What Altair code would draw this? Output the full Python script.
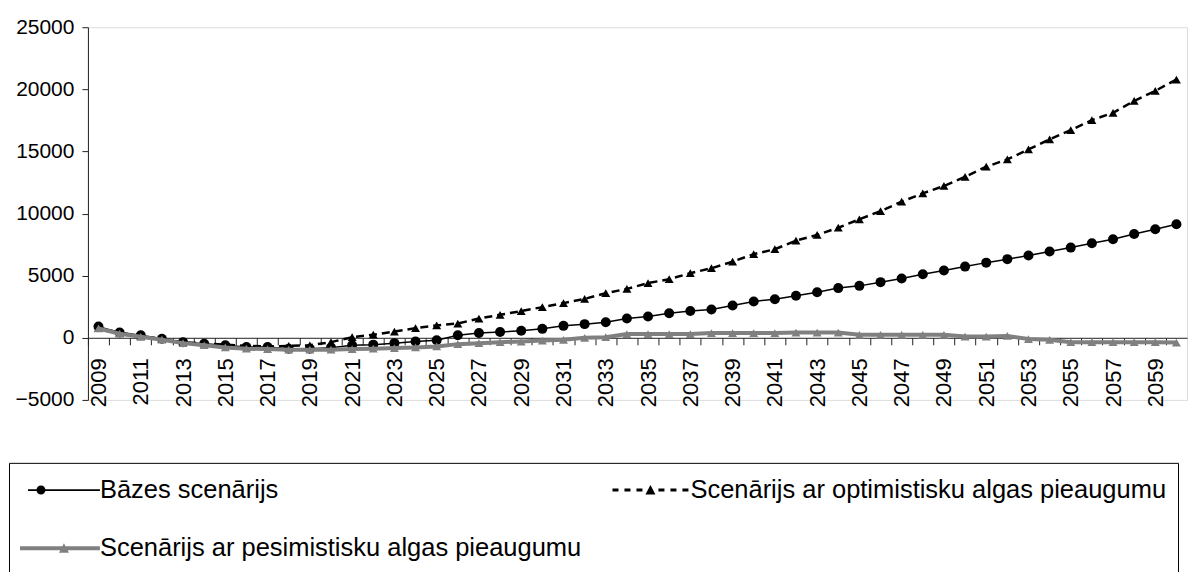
import altair as alt
import pandas as pd

years = list(range(2009, 2061))

base = [900, 430, 200, -80, -350, -480, -600, -750, -750, -880,
        -880, -800, -600, -550, -430, -300, -200, 200, 380, 460,
        560, 720, 960, 1100, 1250, 1550, 1720, 1980, 2150, 2280,
        2600, 2920, 3110, 3380, 3670, 4000, 4180, 4480, 4770, 5120,
        5410, 5730, 6050, 6330, 6620, 6940, 7260, 7610, 7930, 8360,
        8740, 9140]

optim = [800, 400, 150, -100, -350, -450, -550, -650, -700, -650,
         -600, -350, 50, 250, 500, 780, 1000, 1150, 1550, 1850,
         2150, 2470, 2790, 3130, 3590, 3940, 4400, 4720, 5200, 5600,
         6130, 6730, 7130, 7820, 8280, 8860, 9540, 10200, 10960, 11630,
         12220, 12960, 13770, 14360, 15160, 15970, 16720, 17520, 18110, 19070,
         19880, 20790]

pessim = [750, 330, 80, -150, -430, -600, -780, -880, -910, -960,
          -960, -960, -910, -880, -830, -780, -700, -510, -430, -350,
          -300, -220, -160, 0, 50, 300, 300, 300, 300, 380,
          380, 380, 380, 420, 420, 420, 240, 240, 240, 240,
          240, 100, 100, 150, -100, -160, -350, -350, -350, -350,
          -350, -380]

series_names = ["Bāzes scenārijs",
                "Scenārijs ar optimistisku algas pieaugumu",
                "Scenārijs ar pesimistisku algas pieaugumu"]
series_colors = ["#000000", "#000000", "#808080"]

y_ticks = [-5000, 0, 5000, 10000, 15000, 20000, 25000]
# category boundary ticks (the last boundary lies at the plot's right edge, outside the visible frame)
x_tick_edges = [yr - 0.5 for yr in years]

rows = []
for name, vals in zip(series_names, [base, optim, pessim]):
    for yr, v in zip(years, vals):
        rows.append({"year": yr, "value": v, "series": name})
df = pd.DataFrame(rows)

FONT = "Liberation Sans"
W, H = 1100, 373
band = W / len(years)
zero_offset = -H * 5000 / 30000   # x axis sits on the value 0

x_enc = alt.X(
    "year:Q",
    scale=alt.Scale(domain=[years[0] - 0.5, years[-1] + 0.5], nice=False, zero=False),
    axis=alt.Axis(
        orient="bottom", values=x_tick_edges, offset=zero_offset, grid=False,
        domainColor="#222222", tickColor="#222222", tickSize=7,
        labelAngle=270, labelAlign="right", labelBaseline="middle",
        labelOffset=band / 2, labelPadding=13,
        labelExpr="((datum.value - 2008.5) % 2 == 0) ? format(datum.value + 0.5, 'd') : ''",
        labelFont=FONT, labelFontSize=22, labelColor="black",
        labelOverlap=False, labelBound=False, labelFlush=False, title=None),
)
y_enc = alt.Y(
    "value:Q",
    scale=alt.Scale(domain=[-5000, 25000], nice=False, zero=False),
    axis=alt.Axis(values=y_ticks, grid=False, domainColor="#222222", tickColor="#222222",
                  tickSize=6, labelPadding=8, labelFont=FONT, labelFontSize=21,
                  labelColor="black", format="d", title=None),
)

base_c = alt.Chart(df)

def sel(name):
    return base_c.transform_filter(alt.datum.series == name)

l_base = sel(series_names[0]).mark_line(color="black", strokeWidth=1.5).encode(x=x_enc, y=y_enc)
p_base = sel(series_names[0]).mark_point(shape="circle", filled=True, color="black", size=100, opacity=1).encode(x=x_enc, y=y_enc)
l_opt = sel(series_names[1]).mark_line(color="black", strokeWidth=2.5, strokeDash=[8, 5]).encode(x=x_enc, y=y_enc)
p_opt = sel(series_names[1]).mark_point(shape="triangle-up", filled=True, color="black", size=80, opacity=1).encode(x=x_enc, y=y_enc)
l_pes = sel(series_names[2]).mark_line(color="#808080", strokeWidth=4).encode(x=x_enc, y=y_enc)
p_pes = sel(series_names[2]).mark_point(shape="triangle-up", filled=True, color="#808080", size=80, opacity=1).encode(x=x_enc, y=y_enc)

# legend symbols (line + marker) as custom paths; unit = 16 px, symbol centre 16 px from entry start
legend_paths = [
    "M-0.5,-0.05H4V0.05H-0.5Z "
    "M0.59375,0A0.28125,0.28125 0 1,1 0.03125,0A0.28125,0.28125 0 1,1 0.59375,0Z",
    "M-0.875,-0.09375H-0.5V0.09375H-0.875Z M-0.125,-0.09375H0.25V0.09375H-0.125Z "
    "M0.625,-0.09375H1V0.09375H0.625Z M2,-0.09375H2.375V0.09375H2Z "
    "M2.75,-0.09375H3.125V0.09375H2.75Z M3.5,-0.09375H3.875V0.09375H3.5Z "
    "M1.5,-0.3125L1.8125,0.28L1.1875,0.28Z",
    "M-1,-0.125H4V0.125H-1Z M1.75,-0.3125L2.0625,0.28L1.4375,0.28Z",
]

leg = alt.Legend(title=None, orient="none", direction="horizontal", legendX=-79, legendY=436,
                 columns=2, columnPadding=29, rowPadding=28.5, symbolSize=1024,
                 symbolStrokeWidth=0, symbolOpacity=1, labelFont=FONT, labelFontSize=25.5,
                 labelColor="black", labelOffset=48, labelLimit=0, padding=11,
                 strokeColor="black", fillColor="white")

legend_layer = base_c.transform_filter("false").mark_point(filled=True).encode(
    x=x_enc, y=y_enc,
    shape=alt.Shape("series:N", scale=alt.Scale(domain=series_names, range=legend_paths), legend=leg),
    fill=alt.Fill("series:N", scale=alt.Scale(domain=series_names, range=series_colors), legend=leg),
)

chart = alt.layer(l_base, p_base, l_opt, p_opt, l_pes, p_pes, legend_layer).properties(
    width=W, height=H,
    padding={"left": 0, "top": 8, "right": 0, "bottom": 0},
).configure_view(stroke=None).configure(font=FONT)

chart.save("out.html", embed_options={"renderer": "svg", "actions": False})
